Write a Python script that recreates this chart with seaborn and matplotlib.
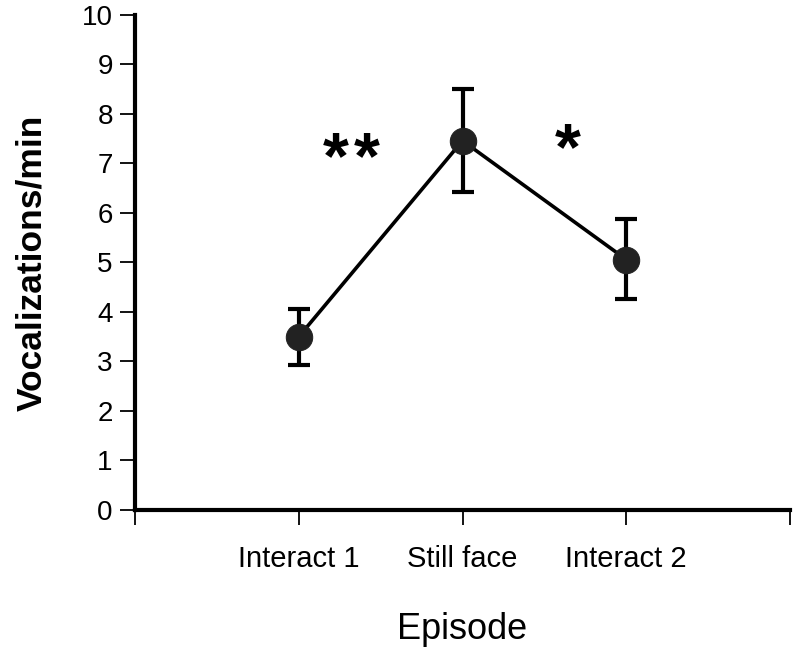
import matplotlib
matplotlib.use('Agg')
import matplotlib.pyplot as plt
import seaborn as sns
import pandas as pd

# data
episodes = ['Interact 1', 'Still face', 'Interact 2']
positions = [1, 2, 3]
vocal_mean = [3.50, 7.46, 5.06]
err_low = [2.93, 6.43, 4.26]
err_high = [4.07, 8.50, 5.88]
tick_positions = [0, 1, 2, 3, 4]
tick_labels = [''] + episodes + ['']
y_ticks = list(range(0, 11))

sns.set_theme(style='ticks')
plt.rcParams['font.family'] = ['Liberation Sans', 'DejaVu Sans']
plt.rcParams['text.color'] = 'black'
plt.rcParams['xtick.color'] = 'black'
plt.rcParams['ytick.color'] = 'black'
plt.rcParams['axes.labelcolor'] = 'black'

df = pd.DataFrame({'pos': positions, 'mean': vocal_mean})
yerr = [[m - lo for m, lo in zip(vocal_mean, err_low)],
        [hi - m for m, hi in zip(vocal_mean, err_high)]]

fig = plt.figure(figsize=(8, 6.52), dpi=100)
ax = fig.add_axes([0.16875, 0.2178, 0.81875, 0.7592])

ax.errorbar(positions, vocal_mean, yerr=yerr, fmt='none', ecolor='black',
            elinewidth=3, capsize=8, capthick=3, zorder=2)
sns.lineplot(data=df, x='pos', y='mean', ax=ax, color='black', linewidth=2.6,
             marker='o', markersize=19, markerfacecolor='#222222',
             markeredgecolor='#222222', zorder=3)

# significance markers
for sx in (1.225, 1.415):
    ax.text(sx, 7.05, '*', ha='center', va='center', fontsize=48, fontweight='bold')
ax.text(2.64, 7.22, '*', ha='center', va='center', fontsize=48, fontweight='bold')

ax.set_xlim(0, 4)
ax.set_ylim(0, 10)
ax.set_xticks(tick_positions)
ax.set_xticklabels(tick_labels, fontsize=21)
ax.set_yticks(y_ticks)
ax.set_yticklabels([str(v) for v in y_ticks], fontsize=20)
ax.tick_params(axis='both', direction='out', length=11, width=1.3, color='black', pad=5)
ax.tick_params(axis='x', pad=14)

sns.despine(ax=ax)
for side in ['left', 'bottom']:
    ax.spines[side].set_linewidth(3)
    ax.spines[side].set_color('black')

ax.set_xlabel('Episode', fontsize=26, labelpad=28)
ax.set_ylabel('Vocalizations/min', fontsize=25.5, fontweight='bold', labelpad=24)

fig.savefig('out.png', dpi=100)
